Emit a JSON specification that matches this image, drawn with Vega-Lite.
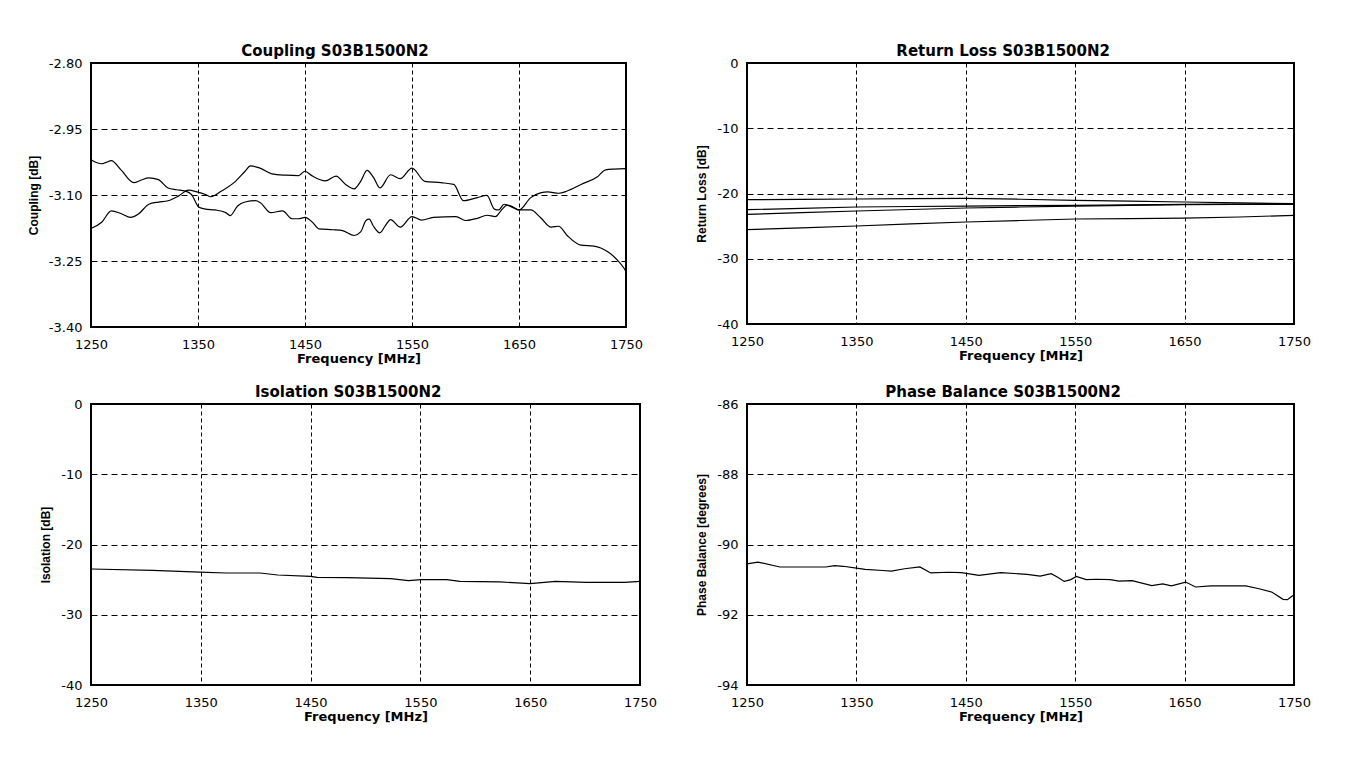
{
  "$schema": "https://vega.github.io/schema/vega-lite/v6.json",
  "background": "white",
  "padding": {"left": 26, "top": 43, "right": 5, "bottom": 5},
  "config": {
    "locale": {"number": {"decimal": ".", "thousands": ",", "grouping": [3], "currency": ["$", ""], "minus": "-"}},
    "font": "DejaVu Sans",
    "view": {"stroke": "black", "strokeWidth": 2},
    "axis": {"labelFont": "DejaVu Sans", "labelFontSize": 13, "labelColor": "black", "titleColor": "black", "ticks": false, "domain": false, "grid": true, "gridColor": "black", "gridOpacity": 1, "gridWidth": 1, "labelFlush": false, "labelOverlap": false},
    "axisX": {"gridDash": [4, 3], "labelPadding": 11, "titlePadding": 1, "titleFont": "DejaVu Sans", "titleFontSize": 13, "titleFontWeight": "bold"},
    "axisY": {"gridDash": [6, 4], "labelPadding": 9, "titlePadding": 8, "titleFont": "Liberation Sans", "titleFontSize": 12, "titleFontWeight": "bold"},
    "title": {"font": "DejaVu Sans", "fontSize": 15, "fontWeight": "bold", "color": "black", "offset": -2, "anchor": "middle", "frame": "bounds"},
    "line": {"color": "black", "strokeWidth": 1.2}
  },
  "datasets": {
    "coupling": [
      {"s":"A","f":1250,"v":-3.020},{"s":"A","f":1255,"v":-3.026},{"s":"A","f":1260,"v":-3.029},{"s":"A","f":1264,"v":-3.026},{"s":"A","f":1269,"v":-3.022},{"s":"A","f":1278,"v":-3.043},{"s":"A","f":1290,"v":-3.072},{"s":"A","f":1297,"v":-3.066},{"s":"A","f":1304,"v":-3.061},{"s":"A","f":1313,"v":-3.065},{"s":"A","f":1322,"v":-3.084},{"s":"A","f":1330,"v":-3.088},{"s":"A","f":1338,"v":-3.091},{"s":"A","f":1344,"v":-3.099},{"s":"A","f":1351,"v":-3.128},{"s":"A","f":1357,"v":-3.132},{"s":"A","f":1366,"v":-3.134},{"s":"A","f":1376,"v":-3.140},{"s":"A","f":1380,"v":-3.147},{"s":"A","f":1387,"v":-3.125},{"s":"A","f":1394,"v":-3.116},{"s":"A","f":1404,"v":-3.113},{"s":"A","f":1408,"v":-3.117},{"s":"A","f":1418,"v":-3.140},{"s":"A","f":1429,"v":-3.136},{"s":"A","f":1438,"v":-3.154},{"s":"A","f":1444,"v":-3.154},{"s":"A","f":1450,"v":-3.151},{"s":"A","f":1457,"v":-3.162},{"s":"A","f":1463,"v":-3.177},{"s":"A","f":1476,"v":-3.179},{"s":"A","f":1485,"v":-3.181},{"s":"A","f":1496,"v":-3.192},{"s":"A","f":1502,"v":-3.184},{"s":"A","f":1507,"v":-3.158},{"s":"A","f":1510,"v":-3.155},{"s":"A","f":1514,"v":-3.171},{"s":"A","f":1520,"v":-3.186},{"s":"A","f":1525,"v":-3.170},{"s":"A","f":1530,"v":-3.156},{"s":"A","f":1539,"v":-3.173},{"s":"A","f":1550,"v":-3.149},{"s":"A","f":1559,"v":-3.157},{"s":"A","f":1570,"v":-3.151},{"s":"A","f":1591,"v":-3.149},{"s":"A","f":1600,"v":-3.158},{"s":"A","f":1611,"v":-3.153},{"s":"A","f":1620,"v":-3.146},{"s":"A","f":1628,"v":-3.149},{"s":"A","f":1633,"v":-3.136},{"s":"A","f":1639,"v":-3.123},{"s":"A","f":1645,"v":-3.128},{"s":"A","f":1650,"v":-3.134},{"s":"A","f":1661,"v":-3.106},{"s":"A","f":1670,"v":-3.095},{"s":"A","f":1677,"v":-3.093},{"s":"A","f":1687,"v":-3.096},{"s":"A","f":1695,"v":-3.091},{"s":"A","f":1708,"v":-3.076},{"s":"A","f":1723,"v":-3.059},{"s":"A","f":1731,"v":-3.043},{"s":"A","f":1739,"v":-3.041},{"s":"A","f":1750,"v":-3.040},
      {"s":"B","f":1250,"v":-3.176},{"s":"B","f":1260,"v":-3.162},{"s":"B","f":1269,"v":-3.136},{"s":"B","f":1278,"v":-3.142},{"s":"B","f":1287,"v":-3.151},{"s":"B","f":1294,"v":-3.144},{"s":"B","f":1304,"v":-3.121},{"s":"B","f":1313,"v":-3.116},{"s":"B","f":1322,"v":-3.113},{"s":"B","f":1332,"v":-3.102},{"s":"B","f":1341,"v":-3.089},{"s":"B","f":1349,"v":-3.093},{"s":"B","f":1357,"v":-3.099},{"s":"B","f":1362,"v":-3.104},{"s":"B","f":1372,"v":-3.091},{"s":"B","f":1385,"v":-3.069},{"s":"B","f":1394,"v":-3.046},{"s":"B","f":1399,"v":-3.034},{"s":"B","f":1408,"v":-3.039},{"s":"B","f":1419,"v":-3.052},{"s":"B","f":1432,"v":-3.055},{"s":"B","f":1444,"v":-3.056},{"s":"B","f":1450,"v":-3.046},{"s":"B","f":1457,"v":-3.057},{"s":"B","f":1469,"v":-3.068},{"s":"B","f":1479,"v":-3.057},{"s":"B","f":1488,"v":-3.076},{"s":"B","f":1496,"v":-3.086},{"s":"B","f":1502,"v":-3.069},{"s":"B","f":1508,"v":-3.044},{"s":"B","f":1514,"v":-3.060},{"s":"B","f":1520,"v":-3.084},{"s":"B","f":1530,"v":-3.054},{"s":"B","f":1539,"v":-3.063},{"s":"B","f":1550,"v":-3.039},{"s":"B","f":1562,"v":-3.069},{"s":"B","f":1577,"v":-3.072},{"s":"B","f":1589,"v":-3.076},{"s":"B","f":1598,"v":-3.113},{"s":"B","f":1611,"v":-3.106},{"s":"B","f":1620,"v":-3.101},{"s":"B","f":1627,"v":-3.132},{"s":"B","f":1631,"v":-3.134},{"s":"B","f":1636,"v":-3.121},{"s":"B","f":1644,"v":-3.128},{"s":"B","f":1650,"v":-3.134},{"s":"B","f":1661,"v":-3.134},{"s":"B","f":1670,"v":-3.151},{"s":"B","f":1680,"v":-3.173},{"s":"B","f":1687,"v":-3.171},{"s":"B","f":1695,"v":-3.192},{"s":"B","f":1708,"v":-3.214},{"s":"B","f":1720,"v":-3.216},{"s":"B","f":1733,"v":-3.229},{"s":"B","f":1742,"v":-3.248},{"s":"B","f":1748,"v":-3.266},{"s":"B","f":1750,"v":-3.274}
    ],
    "returnloss": [
      {"s":"L1","f":1250,"v":-20.95},{"s":"L1","f":1300,"v":-20.9},{"s":"L1","f":1350,"v":-20.84},{"s":"L1","f":1400,"v":-20.78},{"s":"L1","f":1450,"v":-20.74},{"s":"L1","f":1500,"v":-20.88},{"s":"L1","f":1550,"v":-21.05},{"s":"L1","f":1600,"v":-21.18},{"s":"L1","f":1650,"v":-21.3},{"s":"L1","f":1700,"v":-21.43},{"s":"L1","f":1750,"v":-21.56},
      {"s":"L2","f":1250,"v":-22.48},{"s":"L2","f":1300,"v":-22.27},{"s":"L2","f":1350,"v":-22.07},{"s":"L2","f":1400,"v":-21.99},{"s":"L2","f":1450,"v":-21.92},{"s":"L2","f":1500,"v":-21.86},{"s":"L2","f":1550,"v":-21.81},{"s":"L2","f":1600,"v":-21.74},{"s":"L2","f":1650,"v":-21.66},{"s":"L2","f":1700,"v":-21.61},{"s":"L2","f":1750,"v":-21.56},
      {"s":"L3","f":1250,"v":-23.19},{"s":"L3","f":1300,"v":-22.93},{"s":"L3","f":1350,"v":-22.68},{"s":"L3","f":1400,"v":-22.45},{"s":"L3","f":1450,"v":-22.22},{"s":"L3","f":1500,"v":-22.07},{"s":"L3","f":1550,"v":-21.92},{"s":"L3","f":1600,"v":-21.81},{"s":"L3","f":1650,"v":-21.71},{"s":"L3","f":1700,"v":-21.68},{"s":"L3","f":1750,"v":-21.66},
      {"s":"L4","f":1250,"v":-25.54},{"s":"L4","f":1300,"v":-25.26},{"s":"L4","f":1350,"v":-24.98},{"s":"L4","f":1400,"v":-24.67},{"s":"L4","f":1450,"v":-24.37},{"s":"L4","f":1500,"v":-24.14},{"s":"L4","f":1550,"v":-23.91},{"s":"L4","f":1600,"v":-23.84},{"s":"L4","f":1650,"v":-23.76},{"s":"L4","f":1700,"v":-23.6},{"s":"L4","f":1750,"v":-23.35}
    ],
    "isolation": [
      {"f":1250,"v":-23.49},{"f":1306,"v":-23.68},{"f":1349,"v":-23.92},{"f":1373,"v":-24.06},{"f":1404,"v":-24.06},{"f":1420,"v":-24.34},{"f":1450,"v":-24.53},{"f":1456,"v":-24.67},{"f":1483,"v":-24.72},{"f":1523,"v":-24.86},{"f":1539,"v":-25.14},{"f":1551,"v":-25.0},{"f":1574,"v":-25.0},{"f":1586,"v":-25.24},{"f":1622,"v":-25.33},{"f":1650,"v":-25.57},{"f":1673,"v":-25.24},{"f":1701,"v":-25.38},{"f":1736,"v":-25.38},{"f":1750,"v":-25.24}
    ],
    "phase": [
      {"f":1250,"v":-90.55},{"f":1260,"v":-90.5},{"f":1280,"v":-90.64},{"f":1322,"v":-90.64},{"f":1330,"v":-90.6},{"f":1338,"v":-90.62},{"f":1350,"v":-90.67},{"f":1358,"v":-90.71},{"f":1374,"v":-90.74},{"f":1382,"v":-90.76},{"f":1394,"v":-90.69},{"f":1408,"v":-90.64},{"f":1418,"v":-90.81},{"f":1434,"v":-90.79},{"f":1446,"v":-90.8},{"f":1462,"v":-90.88},{"f":1482,"v":-90.8},{"f":1506,"v":-90.85},{"f":1518,"v":-90.9},{"f":1528,"v":-90.83},{"f":1534,"v":-90.93},{"f":1540,"v":-91.05},{"f":1546,"v":-91.0},{"f":1551,"v":-90.91},{"f":1560,"v":-91.0},{"f":1570,"v":-90.99},{"f":1582,"v":-91.0},{"f":1590,"v":-91.04},{"f":1602,"v":-91.03},{"f":1620,"v":-91.17},{"f":1630,"v":-91.12},{"f":1638,"v":-91.18},{"f":1651,"v":-91.07},{"f":1660,"v":-91.21},{"f":1674,"v":-91.18},{"f":1690,"v":-91.18},{"f":1706,"v":-91.18},{"f":1718,"v":-91.26},{"f":1730,"v":-91.36},{"f":1740,"v":-91.56},{"f":1744,"v":-91.57},{"f":1750,"v":-91.43}
    ]
  },
  "columns": 2,
  "spacing": {"row": 60, "column": 107},
  "bounds": "flush",
  "align": "all",
  "concat": [
    {
      "width": 535, "height": 264,
      "title": "Coupling S03B1500N2",
      "data": {"name": "coupling"},
      "mark": {"type": "line", "interpolate": "monotone"},
      "encoding": {
        "x": {"field": "f", "type": "quantitative", "scale": {"domain": [1250, 1750], "nice": false, "zero": false}, "axis": {"values": [1250, 1350, 1450, 1550, 1650, 1750], "format": "d", "title": "Frequency [MHz]"}},
        "y": {"field": "v", "type": "quantitative", "scale": {"domain": [-3.4, -2.8], "nice": false, "zero": false}, "axis": {"values": [-3.4, -3.25, -3.1, -2.95, -2.8], "format": ".2f", "title": "Coupling [dB]"}},
        "detail": {"field": "s"}
      }
    },
    {
      "width": 547, "height": 261,
      "title": "Return Loss S03B1500N2",
      "data": {"name": "returnloss"},
      "mark": {"type": "line"},
      "encoding": {
        "x": {"field": "f", "type": "quantitative", "scale": {"domain": [1250, 1750], "nice": false, "zero": false}, "axis": {"values": [1250, 1350, 1450, 1550, 1650, 1750], "format": "d", "title": "Frequency [MHz]"}},
        "y": {"field": "v", "type": "quantitative", "scale": {"domain": [-40, 0], "nice": false, "zero": false}, "axis": {"values": [-40, -30, -20, -10, 0], "format": "d", "title": "Return Loss [dB]"}},
        "detail": {"field": "s"}
      }
    },
    {
      "width": 549, "height": 281,
      "title": "Isolation S03B1500N2",
      "data": {"name": "isolation"},
      "mark": {"type": "line"},
      "encoding": {
        "x": {"field": "f", "type": "quantitative", "scale": {"domain": [1250, 1750], "nice": false, "zero": false}, "axis": {"values": [1250, 1350, 1450, 1550, 1650, 1750], "format": "d", "title": "Frequency [MHz]"}},
        "y": {"field": "v", "type": "quantitative", "scale": {"domain": [-40, 0], "nice": false, "zero": false}, "axis": {"values": [-40, -30, -20, -10, 0], "format": "d", "title": "Isolation [dB]"}}
      }
    },
    {
      "width": 547, "height": 281,
      "title": "Phase Balance S03B1500N2",
      "data": {"name": "phase"},
      "mark": {"type": "line"},
      "encoding": {
        "x": {"field": "f", "type": "quantitative", "scale": {"domain": [1250, 1750], "nice": false, "zero": false}, "axis": {"values": [1250, 1350, 1450, 1550, 1650, 1750], "format": "d", "title": "Frequency [MHz]"}},
        "y": {"field": "v", "type": "quantitative", "scale": {"domain": [-94, -86], "nice": false, "zero": false}, "axis": {"values": [-94, -92, -90, -88, -86], "format": "d", "title": "Phase Balance [degrees]"}}
      }
    }
  ]
}
